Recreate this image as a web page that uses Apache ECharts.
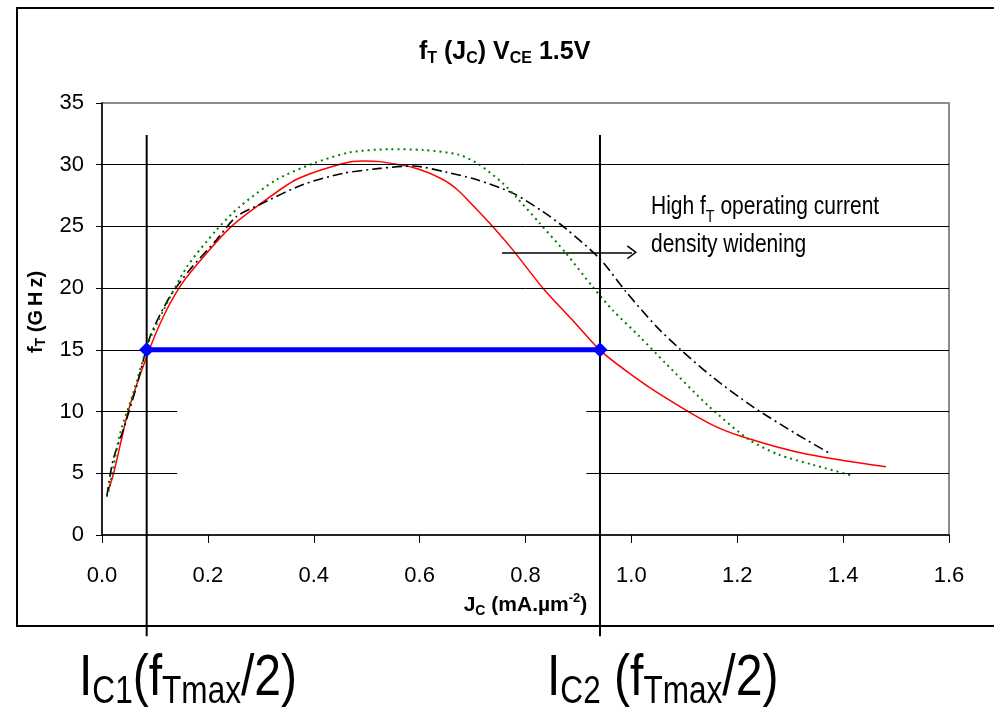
<!DOCTYPE html>
<html>
<head>
<meta charset="utf-8">
<script src="https://cdn.jsdelivr.net/npm/echarts@6/dist/echarts.min.js"></script>
<style>
  html, body { margin: 0; padding: 0; background: #ffffff; }
  #chart { width: 994px; height: 707px; }
</style>
</head>
<body>
<div id="chart"></div>
<script>
// Transit frequency f_T against collector current density J_C at V_CE = 1.5 V

// Solid red device
const jcRed = [0.012, 0.022, 0.035, 0.05, 0.084, 0.116, 0.15, 0.191, 0.242, 0.292, 0.367, 0.455, 0.493, 0.525, 0.594, 0.644, 0.672, 0.694, 0.738, 0.776, 0.833, 0.889, 0.94, 0.99, 1.047, 1.147, 1.21, 1.33, 1.481];
const ftRed = [3.6, 5.0, 7.4, 10.1, 14.4, 17.7, 20.3, 22.5, 24.9, 26.6, 28.8, 30.1, 30.3, 30.25, 29.7, 28.8, 27.95, 27.0, 25.0, 23.1, 20.0, 17.4, 15.0, 13.3, 11.6, 9.05, 7.96, 6.56, 5.53];

// Dash-dot black device
const jcBlack = [0.009, 0.021, 0.040, 0.065, 0.091, 0.128, 0.166, 0.216, 0.254, 0.304, 0.380, 0.455, 0.525, 0.587, 0.650, 0.707, 0.776, 0.833, 0.877, 0.94, 0.99, 1.047, 1.091, 1.153, 1.229, 1.311, 1.377];
const ftBlack = [3.1, 6.1, 8.5, 12.0, 16.1, 19.3, 21.5, 23.9, 25.8, 26.9, 28.4, 29.3, 29.7, 29.9, 29.4, 28.8, 27.7, 26.2, 24.8, 22.4, 19.7, 16.9, 15.1, 12.8, 10.4, 8.2, 6.56];

// Dotted green device
const jcGreen = [0.012, 0.018, 0.034, 0.059, 0.087, 0.116, 0.160, 0.216, 0.260, 0.330, 0.399, 0.468, 0.543, 0.606, 0.675, 0.713, 0.757, 0.782, 0.826, 0.877, 0.927, 0.965, 1.015, 1.065, 1.147, 1.223, 1.279, 1.342, 1.418];
const ftGreen = [3.5, 4.7, 8.2, 11.5, 15.5, 18.2, 21.7, 24.7, 26.6, 28.8, 30.1, 31.0, 31.25, 31.2, 30.8, 30.0, 28.5, 27.4, 25.3, 22.8, 20.1, 18.2, 16.1, 13.9, 10.4, 7.7, 6.5, 5.7, 4.8];

// Current densities where f_T drops to half of its peak
const icHalf = [0.0844, 0.9407];
const ftHalf = [15, 15];

// Axis ticks
const xTicks = [0.0, 0.2, 0.4, 0.6, 0.8, 1.0, 1.2, 1.4, 1.6];
const yTicks = [0, 5, 10, 15, 20, 25, 30, 35];

// Arrow marking the widening of the high-f_T window
const arrowJc = [0.7556, 1.0012];
const arrowFt = [22.9, 22.9];

const FONT = "'Liberation Sans', Arial, sans-serif";

const zip = (xs, ys) => xs.map((x, i) => [x, ys[i]]);

// horizontal gridlines; the lower ones are interrupted in the middle of the plot
const gapFrom = 0.142, gapTo = 0.915, gapBelow = 12;
const gridSegments = [];
yTicks.slice(1, -1).forEach(v => {
  if (v < gapBelow) {
    gridSegments.push([{ coord: [xTicks[0], v] }, { coord: [gapFrom, v] }]);
    gridSegments.push([{ coord: [gapTo, v] }, { coord: [xTicks[xTicks.length - 1], v] }]);
  } else {
    gridSegments.push([{ coord: [xTicks[0], v] }, { coord: [xTicks[xTicks.length - 1], v] }]);
  }
});

// vertical reference lines reach above the curves and below the frame
const vTop = 32.4, vBottom = -8.2;

const chart = echarts.init(document.getElementById('chart'), null, { renderer: 'canvas' });

const sub = (size, bold) => ({ fontSize: size, fontWeight: bold ? 'bold' : 'normal', fontFamily: FONT, fill: '#000', color: '#000', verticalAlign: 'bottom', lineHeight: Math.round(size * 1.05) });
const main = (size, bold, lh) => ({ fontSize: size, fontWeight: bold ? 'bold' : 'normal', fontFamily: FONT, fill: '#000', color: '#000', lineHeight: lh });

// condensed text block (narrow face emulated by horizontal scaling)
const narrowText = (x, y, text, rich, squeeze) => ({
  type: 'text', x: x, y: y, scaleX: squeeze, scaleY: 1, silent: true, z: 20,
  style: { x: 0, y: 0, text: text, rich: rich, align: 'left', verticalAlign: 'top', textAlign: 'left', textVerticalAlign: 'top', fill: '#000' }
});

const option = {
  backgroundColor: '#ffffff',
  animation: false,
  title: [
    {
      text: '{m|f}{s|T}{m| (J}{s|C}{m|) V}{s|CE}{m| 1.5V}',
      left: 419, top: 37, padding: 0,
      textStyle: { rich: { m: main(25, true, 30), s: sub(16, true) } }
    }
  ],
  graphic: [
    {
      type: 'rect', z: -10, silent: true,
      shape: { x: 17, y: 8, width: 1000, height: 618 },
      style: { fill: 'none', stroke: '#000', lineWidth: 2 }
    },
    narrowText(651, 188, '{m|High f}{s|T}{m| operating current}\n{m|density widening}',
      { m: main(25, false, 38), s: sub(17, false) }, 0.84),
    narrowText(79, 646, '{m|I}{s|C1}{m|(f}{s|Tmax}{m|/2)}',
      { m: main(58, false, 66), s: sub(38, false) }, 0.83),
    narrowText(547, 646, '{m|I}{s|C2}{m| (f}{s|Tmax}{m|/2)}',
      { m: main(58, false, 66), s: sub(38, false) }, 0.83)
  ],
  grid: {
    left: 102, top: 103, width: 847, height: 432,
    show: true, borderColor: '#8c8c8c', borderWidth: 2, backgroundColor: 'transparent'
  },
  xAxis: {
    type: 'value', min: xTicks[0], max: xTicks[xTicks.length - 1], interval: 0.2,
    name: '{m|J}{s|C}{m| (mA.µm}{p|-2}{m|)}',
    nameLocation: 'middle', nameGap: 55,
    nameTextStyle: {
      rich: {
        m: main(21, true, 26), s: sub(14, true),
        p: { fontSize: 13, fontWeight: 'bold', fontFamily: FONT, color: '#000', verticalAlign: 'top', lineHeight: 14 }
      }
    },
    axisLine: { show: true, onZero: false, lineStyle: { color: '#000', width: 1.5 } },
    axisTick: { show: true, inside: false, length: 8, lineStyle: { color: '#000', width: 1 } },
    axisLabel: { margin: 30, fontSize: 22, fontFamily: FONT, color: '#000', formatter: v => v.toFixed(1) },
    splitLine: { show: false }
  },
  yAxis: {
    type: 'value', min: yTicks[0], max: yTicks[yTicks.length - 1], interval: 5,
    name: '{m|f}{s|T}{m| (G\u2009H\u2009z)}',
    nameLocation: 'middle', nameRotate: 90, nameGap: 48,
    nameTextStyle: { padding: [0, 0, 0, 14], rich: { m: main(20, true, 24), s: sub(14, true) } },
    axisLine: { show: true, onZero: false, lineStyle: { color: '#000', width: 1.5 } },
    axisTick: { show: true, inside: false, length: 6, lineStyle: { color: '#000', width: 1 } },
    axisLabel: { margin: 18, fontSize: 22, fontFamily: FONT, color: '#000' },
    splitLine: { show: false }
  },
  series: [
    {
      // gridlines drawn behind the curves
      type: 'line', data: [], z: 1, silent: true,
      markLine: {
        silent: true, symbol: ['none', 'none'], animation: false,
        label: { show: false },
        lineStyle: { color: '#000', width: 1, type: 'solid' },
        emphasis: { disabled: true },
        data: gridSegments
      }
    },
    {
      name: 'red', type: 'line', data: zip(jcRed, ftRed), smooth: 0.25,
      showSymbol: false, z: 3,
      lineStyle: { color: '#ff0000', width: 1.5 }
    },
    {
      name: 'black', type: 'line', data: zip(jcBlack, ftBlack), smooth: 0.25,
      showSymbol: false, z: 3,
      lineStyle: { color: '#000000', width: 1.6, type: [10, 4, 2, 4] }
    },
    {
      name: 'green', type: 'line', data: zip(jcGreen, ftGreen), smooth: 0.25,
      showSymbol: false, z: 3,
      lineStyle: { color: '#008000', width: 2, type: [2, 4] }
    },
    {
      name: 'IC1', type: 'line', data: [[icHalf[0], vTop], [icHalf[0], vBottom]],
      clip: false, showSymbol: false, z: 4, silent: true,
      lineStyle: { color: '#000', width: 2 }
    },
    {
      name: 'IC2', type: 'line', data: [[icHalf[1], vTop], [icHalf[1], vBottom]],
      clip: false, showSymbol: false, z: 4, silent: true,
      lineStyle: { color: '#000', width: 2 }
    },
    {
      name: 'half ft', type: 'line', data: zip(icHalf, ftHalf),
      symbol: 'diamond', symbolSize: 15, showSymbol: true, z: 5,
      itemStyle: { color: '#0000ff' },
      lineStyle: { color: '#0000ff', width: 5 }
    },
    {
      name: 'arrow', type: 'line', data: [], z: 5, silent: true,
      markLine: {
        silent: true, animation: false,
        symbol: ['none', 'path://M0,10 L5,0 L10,10 L9,10.8 L5,2.6 L1,10.8 Z'],
        symbolSize: [14, 10],
        label: { show: false },
        lineStyle: { color: '#000', width: 1.5, type: 'solid' },
        emphasis: { disabled: true },
        data: [[{ coord: [arrowJc[0], arrowFt[0]] }, { coord: [arrowJc[1], arrowFt[1]] }]]
      }
    }
  ]
};

chart.setOption(option);
</script>
</body>
</html>
